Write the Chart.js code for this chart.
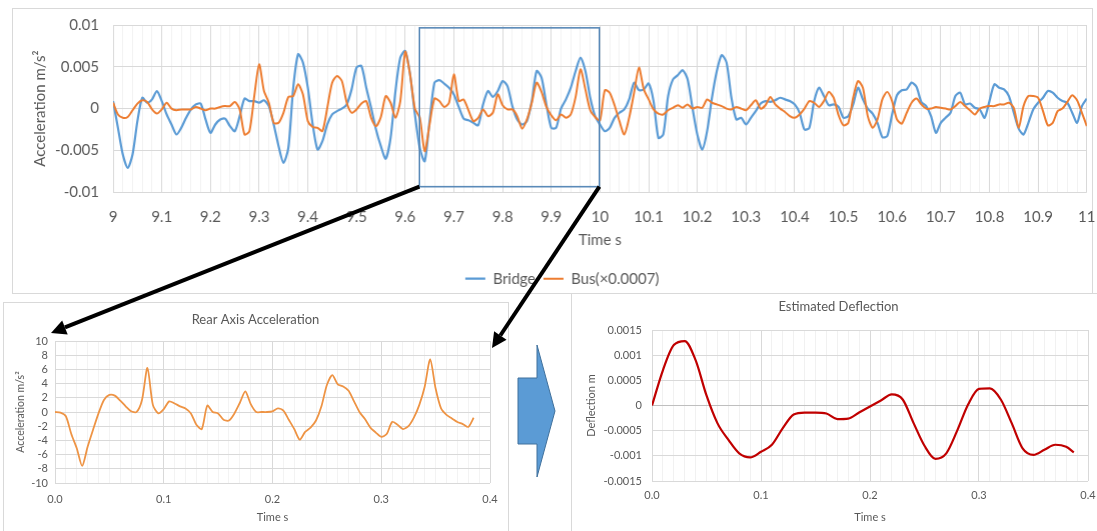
<!DOCTYPE html>
<html>
<head>
<meta charset="utf-8">
<script src="https://cdn.jsdelivr.net/npm/chart.js@4.4.1/dist/chart.umd.min.js"></script>
<style>
  html, body { margin: 0; padding: 0; background: #fff; width: 1097px; height: 531px; overflow: hidden; }
  .frame { position: absolute; border: 1px solid #d9d9d9; box-sizing: border-box; background: #fff; }
  .wrap { position: absolute; }
  #topFrame { left: 12px; top: 8px; width: 1081px; height: 286px; }
  #rearFrame { left: 3px; top: 302px; width: 506px; height: 240px; }
  #deflFrame { left: 571px; top: 293px; width: 540px; height: 250px; }
  #topWrap { left: 13px; top: 1.5px; width: 1097.5px; height: 310px; }
  #rearWrap { left: 5px; top: 303px; width: 503px; height: 240px; }
  #deflWrap { left: 573px; top: 295px; width: 540px; height: 250px; }
  #overlay { position: absolute; left: 0; top: 0; pointer-events: none; z-index: 10; }
</style>
</head>
<body>
<div class="frame" id="topFrame"></div>
<div class="frame" id="rearFrame"></div>
<div class="frame" id="deflFrame"></div>
<div class="wrap" id="topWrap"><canvas id="topCanvas"></canvas></div>
<div class="wrap" id="rearWrap"><canvas id="rearCanvas"></canvas></div>
<div class="wrap" id="deflWrap"><canvas id="deflCanvas"></canvas></div>
<canvas id="overlay" width="1097" height="531"></canvas>

<script>
/* ---- top panel: bridge vs bus acceleration, one sample every 0.01 s from 9.00 s ---- */
const TOP_START = 9.0;
const TOP_STEP = 0.01;

const bridgeAcc = [
  0.0009, -0.0023, -0.0055, -0.0071, -0.0055, -0.0015, 0.0013, 0.0007, 0.0011, 0.0021,
  0.0009, -0.0007, -0.0019, -0.0031, -0.0023, -0.0011, -0.0001, 0.0005, 0.0006, -0.0013,
  -0.0029, -0.0019, -0.0013, -0.0012, -0.0021, -0.0027, -0.0009, 0.0012, 0.0009, 0.0009,
  0.0007, 0.0010, 0.0003, -0.0019, -0.0045, -0.0065, -0.0047, 0.0025, 0.0065, 0.0055,
  0.0025, -0.0019, -0.0049, -0.0039, -0.0019, -0.0007, -0.0003, 0.0000, 0.0005, 0.0023,
  0.0049, 0.0051, 0.0025, 0.0001, -0.0025, -0.0045, -0.0060, -0.0035, 0.0021, 0.0061,
  0.0069, 0.0041, -0.0007, -0.0047, -0.0063, -0.0015, 0.0031, 0.0034, 0.0030, 0.0025,
  0.0017, 0.0002, -0.0012, -0.0014, -0.0017, -0.0020, 0.0005, 0.0021, 0.0014, 0.0021,
  0.0033, 0.0027, 0.0003, -0.0013, -0.0019, -0.0015, 0.0009, 0.0045, 0.0037, 0.0005,
  -0.0023, -0.0023, 0.0000, 0.0011, 0.0025, 0.0045, 0.0061, 0.0045, 0.0013, -0.0009,
  -0.0019, -0.0027, -0.0023, -0.0011, -0.0005, -0.0001, 0.0011, 0.0031, 0.0022, 0.0023,
  0.0030, 0.0009, -0.0035, -0.0031, 0.0015, 0.0035, 0.0040, 0.0046, 0.0035, 0.0001,
  -0.0031, -0.0049, -0.0027, 0.0013, 0.0045, 0.0064, 0.0055, 0.0013, -0.0013, -0.0011,
  -0.0019, -0.0011, -0.0003, 0.0006, 0.0009, 0.0008, 0.0010, 0.0013, 0.0011, 0.0009,
  0.0005, -0.0005, -0.0025, -0.0023, 0.0009, 0.0025, 0.0015, 0.0004, 0.0005, 0.0002,
  -0.0011, -0.0009, 0.0005, 0.0025, 0.0011, 0.0000, -0.0006, -0.0017, -0.0034, -0.0033,
  -0.0007, 0.0016, 0.0022, 0.0023, 0.0031, 0.0026, 0.0008, 0.0003, -0.0009, -0.0029,
  -0.0017, -0.0011, -0.0005, 0.0015, 0.0019, 0.0005, 0.0006, 0.0001, -0.0001, -0.0011,
  0.0009, 0.0029, 0.0025, 0.0023, 0.0015, -0.0005, -0.0024, -0.0031, -0.0017, -0.0001,
  0.0007, 0.0013, 0.0021, 0.0019, 0.0013, 0.0009, 0.0007, -0.0005, -0.0017, 0.0003,
  0.0012
];

// bus acceleration already multiplied by 0.0007, as plotted
const busAccScaled = [
  0.0007, -0.0007, -0.0011, -0.0010, -0.0002, 0.0006, 0.0010, 0.0008, -0.0001, -0.0006,
  -0.0001, 0.0007, 0.0000, -0.0002, -0.0001, -0.0001, -0.0001, 0.0002, 0.0000, -0.0002,
  0.0000, 0.0000, 0.0002, 0.0003, 0.0003, 0.0008, -0.0001, -0.0031, -0.0027, 0.0015,
  0.0053, 0.0021, 0.0007, -0.0017, -0.0017, -0.0005, 0.0014, 0.0015, 0.0029, 0.0017,
  -0.0015, -0.0022, -0.0023, -0.0027, 0.0001, 0.0031, 0.0039, 0.0033, 0.0007, -0.0005,
  -0.0001, 0.0006, 0.0009, -0.0011, -0.0021, -0.0010, 0.0015, 0.0007, -0.0011, 0.0009,
  0.0068, 0.0041, 0.0000, -0.0011, -0.0051, -0.0019, 0.0012, 0.0009, 0.0002, 0.0007,
  0.0041, 0.0009, 0.0011, -0.0002, -0.0015, -0.0011, -0.0001, -0.0009, -0.0005, 0.0017,
  0.0004, -0.0001, -0.0001, -0.0009, -0.0024, -0.0013, 0.0007, 0.0031, 0.0020, 0.0002,
  -0.0008, -0.0014, -0.0007, -0.0011, -0.0007, 0.0014, 0.0047, 0.0023, -0.0002, -0.0010,
  -0.0014, 0.0022, 0.0019, 0.0004, -0.0015, -0.0031, -0.0011, 0.0019, 0.0049, 0.0023,
  0.0011, -0.0001, -0.0006, -0.0007, -0.0002, 0.0001, 0.0004, 0.0001, 0.0005, 0.0000,
  0.0002, 0.0001, 0.0011, 0.0007, 0.0005, 0.0003, 0.0000, -0.0001, 0.0002, 0.0000,
  -0.0002, 0.0004, 0.0010, 0.0000, 0.0004, 0.0014, 0.0005, 0.0000, -0.0004, -0.0009,
  -0.0011, -0.0007, 0.0000, 0.0009, 0.0007, 0.0002, 0.0009, 0.0020, 0.0013, -0.0008,
  -0.0020, -0.0017, 0.0013, 0.0033, 0.0025, -0.0009, -0.0023, -0.0013, 0.0011, 0.0020,
  0.0009, -0.0013, -0.0018, -0.0005, 0.0007, 0.0012, 0.0005, 0.0000, 0.0000, 0.0002,
  0.0001, 0.0000, -0.0001, 0.0003, 0.0008, 0.0003, -0.0002, -0.0007, 0.0000, 0.0002,
  0.0003, 0.0003, 0.0005, 0.0005, 0.0007, 0.0001, -0.0023, 0.0003, 0.0015, 0.0015,
  0.0013, -0.0003, -0.0020, -0.0017, -0.0003, 0.0000, 0.0008, 0.0016, 0.0010, -0.0005,
  -0.0021
];

// window that is blown up in the lower charts
const zoomWindow = [9.63, 10.0];
const zoomRange = [-0.0094, 0.0096];

/* ---- rear axle acceleration, one sample every 0.005 s ---- */
const REAR_STEP = 0.005;
const rearAxleAcc = [
  0.0, -0.1, -0.6, -3.1, -5.1, -7.6, -4.9, -2.5, -0.2, 1.7,
  2.4, 2.3, 1.6, 0.8, 0.1, 0.0, 1.7, 6.2, 1.0, -0.2,
  0.4, 1.5, 1.2, 0.8, 0.5, -0.2, -1.8, -2.4, 0.9, 0.0,
  -0.2, -1.1, -1.2, -0.2, 1.3, 2.9, 1.1, 0.0, 0.0, 0.0,
  0.1, 0.5, 0.2, -1.1, -2.4, -3.9, -2.8, -2.2, -1.2, 0.8,
  3.8, 5.2, 3.9, 3.6, 3.0, 1.5, 0.0, -1.0, -2.2, -2.9,
  -3.5, -3.1, -1.4, -1.8, -2.4, -2.0, -0.8, 1.0, 3.6, 7.4,
  3.3, 0.5, -0.4, -0.9, -1.4, -1.7, -2.1, -0.8
];

/* ---- estimated deflection ---- */
const deflTimes = [
  0, 0.01, 0.02, 0.03, 0.04, 0.05, 0.06, 0.07, 0.08, 0.09,
  0.10, 0.11, 0.12, 0.13, 0.14, 0.15, 0.16, 0.17, 0.18, 0.19,
  0.20, 0.21, 0.22, 0.23, 0.24, 0.25, 0.26, 0.27, 0.28, 0.29,
  0.30, 0.31, 0.32, 0.33, 0.34, 0.35, 0.36, 0.37, 0.38, 0.387
];
const deflection = [
  0, 0.0007, 0.0012, 0.00128, 0.0009, 0.0002, -0.00035, -0.00068, -0.00095, -0.00103,
  -0.00092, -0.00078, -0.00045, -0.00018, -0.00014, -0.00014, -0.00016, -0.00027, -0.00026, -0.00014,
  -0.00002, 0.0001, 0.00022, 0.00012, -0.00035, -0.0008, -0.00106, -0.00095, -0.0005, 0.00002,
  0.00033, 0.00034, 0.00012, -0.00035, -0.00085, -0.00098, -0.00088, -0.00078, -0.00082, -0.00093
];

/* ---- styling ---- */
const FONT = "Lato, 'Open Sans', sans-serif";
const TEXT = '#595959';
const GRID = '#d9d9d9';
const GRID_MINOR = '#f2f2f2';
const BLUE = '#5b9bd5';
const ORANGE = '#ed7d31';

Chart.defaults.font.family = FONT;
Chart.defaults.color = TEXT;

function xy(times, values) {
  return values.map((v, i) => ({ x: times[i], y: v }));
}
function isMultiple(v, step) {
  return Math.abs(v / step - Math.round(v / step)) < 1e-6;
}

const topTimes = bridgeAcc.map((_, i) => +(TOP_START + i * TOP_STEP).toFixed(2));
const rearTimes = rearAxleAcc.map((_, i) => +(i * REAR_STEP).toFixed(3));

// Top chart: bridge and bus
const topChart = new Chart(document.getElementById('topCanvas'), {
  type: 'line',
  data: {
    datasets: [{
      label: 'Bridge',
      data: xy(topTimes, bridgeAcc),
      borderColor: BLUE,
      backgroundColor: BLUE,
      borderWidth: 2.2,
      pointStyle: 'line',
      order: 2,
    }, {
      label: 'Bus(×0.0007)',
      data: xy(topTimes, busAccScaled),
      borderColor: ORANGE,
      backgroundColor: ORANGE,
      borderWidth: 2,
      pointStyle: 'line',
      order: 1,
    }]
  },
  options: {
    animation: false, responsive: true, maintainAspectRatio: false,
    elements: { point: { radius: 0 }, line: { tension: 0.25 } },
    layout: { padding: { top: 0, right: 0, left: 0, bottom: 15.8 } },
    plugins: {
      legend: {
        position: 'bottom',
        labels: {
          usePointStyle: true, pointStyleWidth: 20, padding: 8,
          font: { size: 15 }, color: TEXT,
          sort: (a, b) => a.datasetIndex - b.datasetIndex
        }
      },
      tooltip: { enabled: false }
    },
    scales: {
      x: {
        type: 'linear', min: 9, max: 11,
        afterFit: s => { s.height = 71; },
        border: { display: false },
        grid: { drawTicks: false, color: c => isMultiple(c.tick.value, 0.1) ? GRID : GRID_MINOR },
        ticks: {
          stepSize: 0.02, autoSkip: false, maxRotation: 0, padding: 16,
          font: { size: 15 }, color: TEXT,
          callback: v => isMultiple(v, 0.1) ? String(+v.toFixed(1)) : ''
        },
        title: { display: true, text: 'Time s', font: { size: 15 }, color: TEXT, padding: { top: 0, bottom: 13.7 } }
      },
      y: {
        min: -0.01, max: 0.01,
        afterFit: s => { s.width = 100; },
        border: { display: false },
        grid: { drawTicks: false, color: GRID },
        ticks: { stepSize: 0.005, padding: 14, font: { size: 15 }, color: TEXT, callback: v => String(+v.toFixed(3)) },
        title: { display: true, text: 'Acceleration m/s²', font: { size: 15 }, color: TEXT, padding: { top: 18, bottom: 0 } }
      }
    }
  }
});

// Rear axle acceleration
const rearChart = new Chart(document.getElementById('rearCanvas'), {
  type: 'line',
  data: {
    datasets: [{
      label: 'Rear Axis Acceleration',
      data: xy(rearTimes, rearAxleAcc),
      borderColor: '#ee9445',
      borderWidth: 1.8,
    }]
  },
  options: {
    animation: false, responsive: true, maintainAspectRatio: false,
    elements: { point: { radius: 0 }, line: { tension: 0.25 } },
    layout: { padding: { top: 0, right: 18, left: 16, bottom: 17 } },
    plugins: {
      legend: { display: false },
      tooltip: { enabled: false },
      title: {
        display: true, text: 'Rear Axis Acceleration', color: TEXT,
        font: { size: 13, weight: 'normal' }, padding: { top: 9.2, bottom: 13.2 }
      }
    },
    scales: {
      x: {
        type: 'linear', min: 0, max: 0.4,
        afterFit: s => { s.height = 43; },
        border: { display: false },
        grid: { drawTicks: false, color: c => isMultiple(c.tick.value, 0.1) ? GRID : '#f3f3f3' },
        ticks: {
          stepSize: 0.01, autoSkip: false, maxRotation: 0, padding: 9.5,
          font: { size: 11 }, color: TEXT,
          callback: v => isMultiple(v, 0.1) ? v.toFixed(1) : ''
        },
        title: { display: true, text: 'Time s', font: { size: 11 }, color: TEXT, padding: { top: 0, bottom: 2 } }
      },
      y: {
        min: -10, max: 10,
        afterFit: s => { s.width = 34; },
        border: { display: false },
        grid: { drawTicks: false, color: GRID },
        ticks: { stepSize: 2, autoSkip: false, padding: 7, font: { size: 11 }, color: TEXT },
        title: { display: true, text: 'Acceleration m/s²', font: { size: 10.5 }, color: TEXT, padding: { top: -6.3, bottom: 0 } }
      }
    }
  }
});

// Estimated deflection
const deflChart = new Chart(document.getElementById('deflCanvas'), {
  type: 'line',
  data: {
    datasets: [{
      label: 'Estimated Deflection',
      data: xy(deflTimes, deflection),
      borderColor: '#c00000',
      borderWidth: 2.2,
      cubicInterpolationMode: 'monotone',
    }]
  },
  options: {
    animation: false, responsive: true, maintainAspectRatio: false,
    elements: { point: { radius: 0 } },
    layout: { padding: { top: 0, right: 25, left: 16, bottom: 19 } },
    plugins: {
      legend: { display: false },
      tooltip: { enabled: false },
      title: {
        display: true, text: 'Estimated Deflection', color: TEXT,
        font: { size: 13, weight: 'normal' }, padding: { top: 4.2, bottom: 15.2 }
      }
    },
    scales: {
      x: {
        type: 'linear', min: 0, max: 0.4,
        afterFit: s => { s.height = 45; },
        border: { display: false },
        grid: { drawTicks: false, color: c => isMultiple(c.tick.value, 0.1) ? GRID : '#f1f1f1' },
        ticks: {
          stepSize: 0.01, autoSkip: false, maxRotation: 0, padding: 7.5,
          font: { size: 11 }, color: TEXT,
          callback: v => isMultiple(v, 0.1) ? v.toFixed(1) : ''
        },
        title: { display: true, text: 'Time s', font: { size: 11 }, color: TEXT, padding: { top: 0, bottom: 2 } }
      },
      y: {
        min: -0.0015, max: 0.0015,
        afterFit: s => { s.width = 63; },
        border: { display: false },
        grid: { drawTicks: false, color: c => c.tick.value === 0 ? '#bfbfbf' : GRID },
        ticks: { stepSize: 0.0005, autoSkip: false, padding: 10, font: { size: 11 }, color: TEXT, callback: v => String(+v.toFixed(4)) },
        title: { display: true, text: 'Deflection m', font: { size: 11 }, color: TEXT, padding: { top: -4.6, bottom: 0 } }
      }
    }
  }
});

// Zoom box, pointer arrows and the block arrow between the lower charts
function arrow(ctx, x1, y1, x2, y2) {
  const a = Math.atan2(y2 - y1, x2 - x1), L = 15, W = 7.5;
  const bx = x2 - L * Math.cos(a), by = y2 - L * Math.sin(a);
  ctx.beginPath(); ctx.moveTo(x1, y1); ctx.lineTo(bx, by); ctx.stroke();
  ctx.beginPath();
  ctx.moveTo(x2, y2);
  ctx.lineTo(bx + W * Math.sin(a), by - W * Math.cos(a));
  ctx.lineTo(bx - W * Math.sin(a), by + W * Math.cos(a));
  ctx.closePath(); ctx.fill();
}

function drawOverlay() {
  const ctx = document.getElementById('overlay').getContext('2d');
  const tr = topChart.canvas.getBoundingClientRect();
  const sx = topChart.scales.x, sy = topChart.scales.y;
  const x1 = tr.left + sx.getPixelForValue(zoomWindow[0]);
  const x2 = tr.left + sx.getPixelForValue(zoomWindow[1]);
  const y1 = tr.top + sy.getPixelForValue(zoomRange[1]);
  const y2 = tr.top + sy.getPixelForValue(zoomRange[0]);
  ctx.strokeStyle = '#5a8ab8';
  ctx.lineWidth = 1.6;
  ctx.strokeRect(x1, y1, x2 - x1, y2 - y1);

  const rr = rearChart.canvas.getBoundingClientRect();
  const ra = rearChart.chartArea;
  ctx.strokeStyle = '#000';
  ctx.fillStyle = '#000';
  ctx.lineWidth = 4;
  arrow(ctx, x1, y2, rr.left + ra.left - 4, rr.top + ra.top - 8);
  arrow(ctx, x2, y2, rr.left + ra.right + 2, rr.top + ra.top + 7);

  // block arrow
  ctx.beginPath();
  ctx.moveTo(518, 378); ctx.lineTo(537, 378); ctx.lineTo(537, 345);
  ctx.lineTo(555, 411); ctx.lineTo(537, 477); ctx.lineTo(537, 444);
  ctx.lineTo(518, 444); ctx.closePath();
  ctx.fillStyle = '#5b9bd5';
  ctx.fill();
  ctx.strokeStyle = '#41719c';
  ctx.lineWidth = 1;
  ctx.stroke();
}
drawOverlay();
</script>
</body>
</html>
